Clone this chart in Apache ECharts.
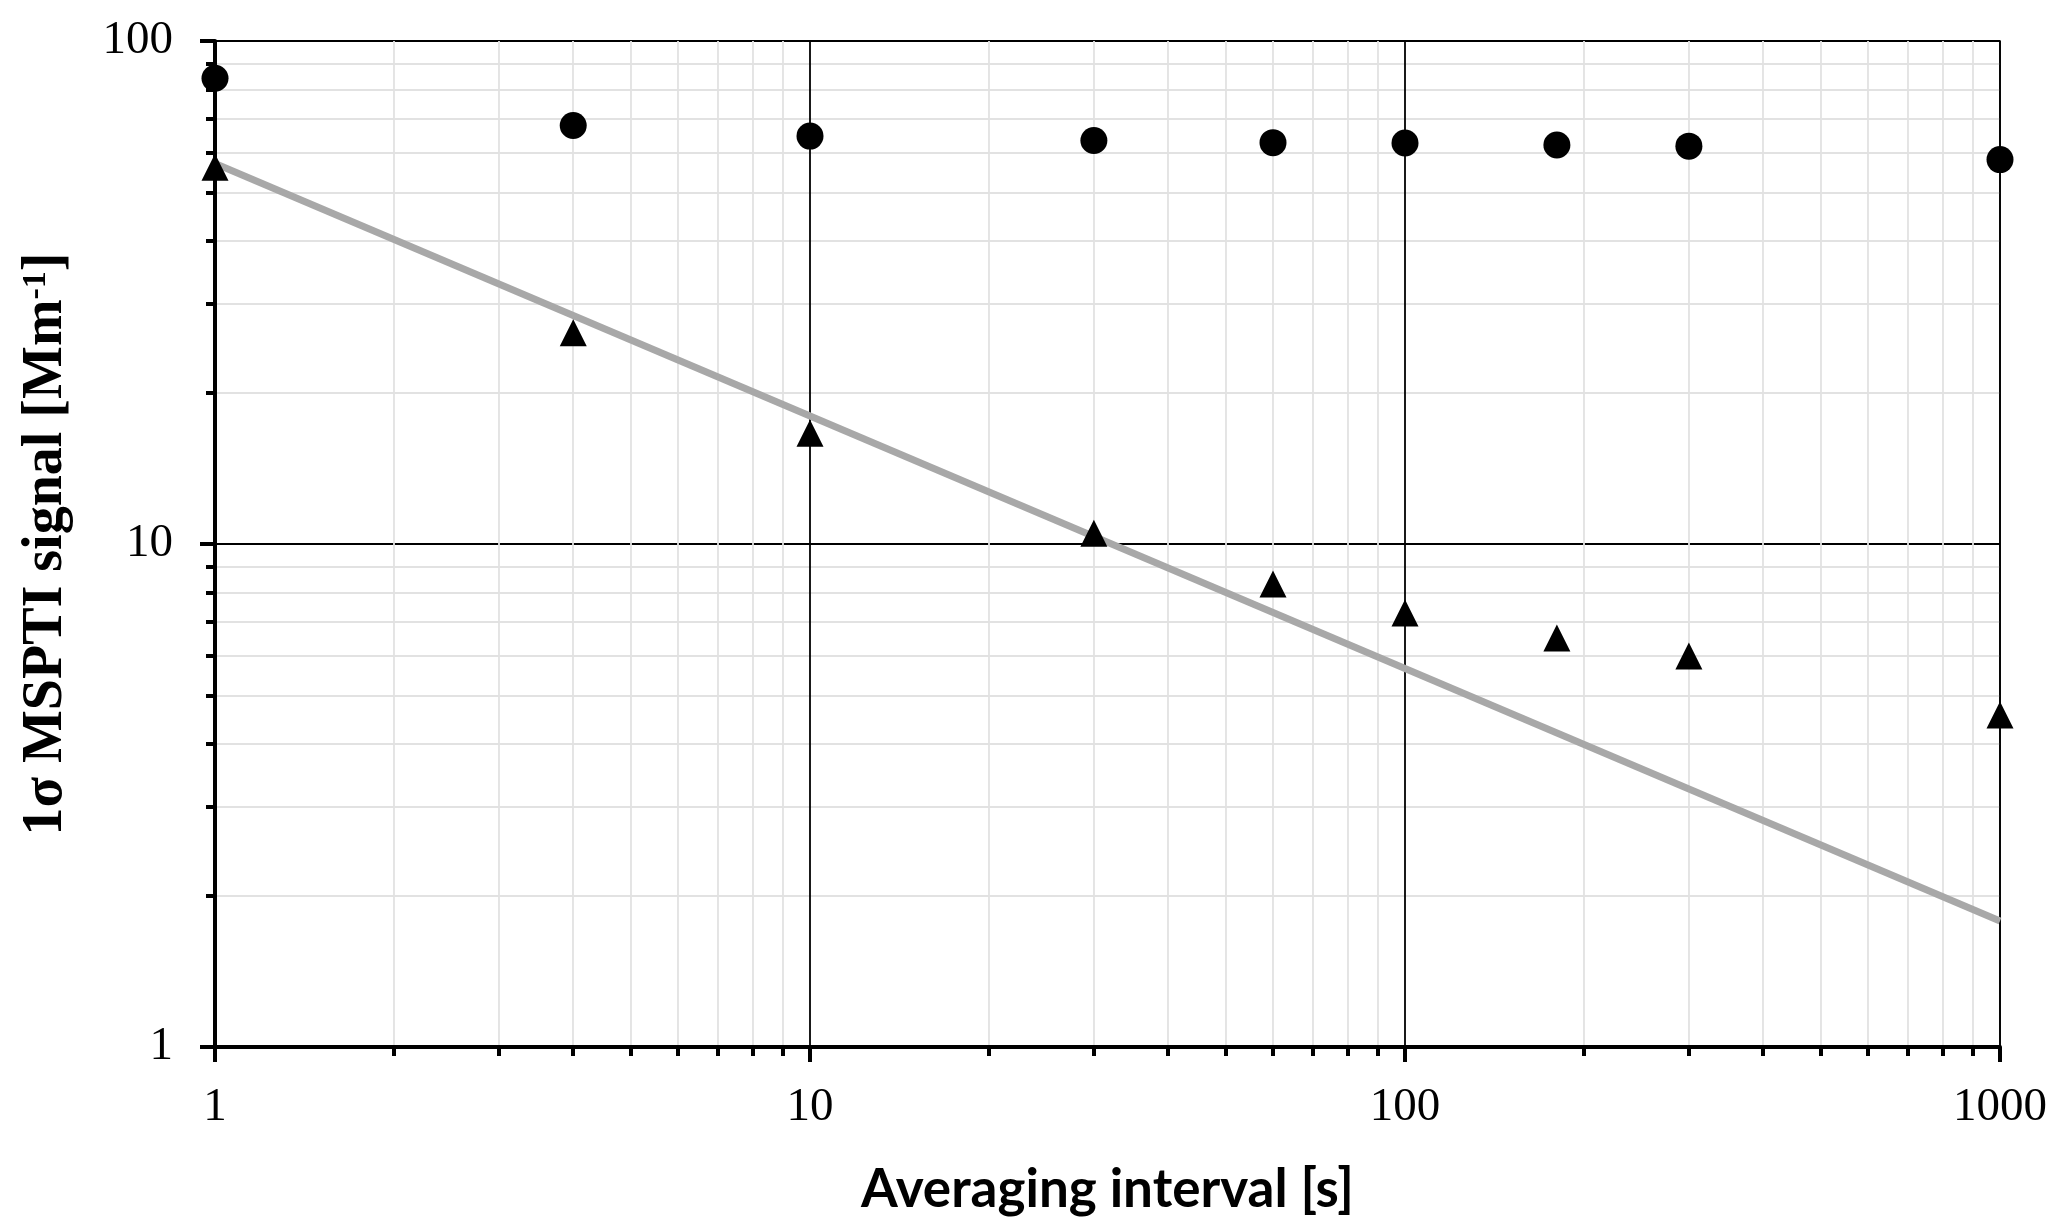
<!DOCTYPE html>
<html>
<head>
<meta charset="utf-8">
<script src="https://cdn.jsdelivr.net/npm/echarts@6/dist/echarts.min.js"></script>
<style>
  html, body { margin: 0; padding: 0; background: #fff; }
  #chart { width: 2067px; height: 1230px; }
</style>
</head>
<body>
<div id="chart"></div>
<script>
// ---- data ----
const intervals = [1, 4, 10, 30, 60, 100, 180, 300, 1000];
const signalCircles = [84.3, 67.9, 64.7, 63.4, 62.8, 62.7, 62.1, 61.8, 58.1];
const signalTriangles = [56.1, 26.3, 16.6, 10.5, 8.33, 7.29, 6.50, 5.99, 4.57];
const fitX = [1, 1000];
const fitY = [57.1, 1.78];

// ---- tick values ----
const xTickLabels = [1, 10, 100, 1000];
const yTickLabels = [1, 10, 100];
const xMinorTicks = [2, 3, 4, 5, 6, 7, 8, 9, 20, 30, 40, 50, 60, 70, 80, 90, 200, 300, 400, 500, 600, 700, 800, 900];
const yMinorTicks = [2, 3, 4, 5, 6, 7, 8, 9, 20, 30, 40, 50, 60, 70, 80, 90];

const circleData = intervals.map((x, i) => [x, signalCircles[i]]);
const triangleData = intervals.map((x, i) => [x, signalTriangles[i]]);
const fitData = fitX.map((x, i) => [x, fitY[i]]);

const serif = '"Liberation Serif", "Times New Roman", serif';
const minorGray = '#e2e2e2';
const plainNumber = v => String(Math.round(v));

const chart = echarts.init(document.getElementById('chart'), null, { renderer: 'canvas' });
chart.setOption({
  backgroundColor: '#ffffff',
  animation: false,
  grid: {
    left: 215, right: 67, top: 41, bottom: 183,
    show: true, borderColor: '#000', borderWidth: 1.5, backgroundColor: 'transparent',
    containLabel: false, outerBoundsMode: 'none'
  },
  xAxis: [
    {
      type: 'log', logBase: 10, min: 1, max: 1000, position: 'bottom',
      axisLine: { show: true, onZero: false, lineStyle: { color: '#000', width: 4 } },
      axisTick: { show: true, inside: false, length: 15, customValues: xTickLabels, lineStyle: { color: '#000', width: 4 } },
      axisLabel: { show: true, customValues: xTickLabels, formatter: plainNumber, margin: 37, color: '#000', fontFamily: serif, fontSize: 47 },
      splitLine: { show: true, lineStyle: { color: '#000', width: 1.8 } },
      minorTick: { show: false }, minorSplitLine: { show: false },
      name: 'Averaging interval [s]', nameLocation: 'middle', nameGap: 116, nameMoveOverlap: false,
      nameTextStyle: { color: '#000', fontFamily: 'Lato, "Open Sans", sans-serif', fontWeight: 'bold', fontSize: 53 }
    },
    {
      type: 'log', logBase: 10, min: 1, max: 1000, position: 'bottom', gridIndex: 0,
      axisLine: { show: false },
      axisTick: { show: true, inside: false, length: 9, customValues: xMinorTicks, lineStyle: { color: '#000', width: 4 } },
      axisLabel: { show: false },
      splitLine: { show: true, lineStyle: { color: minorGray, width: 1.8 } }
    }
  ],
  yAxis: [
    {
      type: 'log', logBase: 10, min: 1, max: 100, position: 'left',
      axisLine: { show: true, onZero: false, lineStyle: { color: '#000', width: 4 } },
      axisTick: { show: true, inside: false, length: 15, customValues: yTickLabels, lineStyle: { color: '#000', width: 4 } },
      axisLabel: { show: true, customValues: yTickLabels, formatter: plainNumber, margin: 42, color: '#000', fontFamily: serif, fontSize: 47 },
      splitLine: { show: true, lineStyle: { color: '#000', width: 1.8 } },
      minorTick: { show: false }, minorSplitLine: { show: false },
      name: '1σ MSPTI signal [Mm{sup|-1}]', nameLocation: 'middle', nameGap: 140,
      nameTextStyle: {
        color: '#000', fontFamily: serif, fontWeight: 'bold', fontSize: 56,
        rich: { sup: { color: '#000', fontFamily: serif, fontWeight: 'bold', fontSize: 34, verticalAlign: 'top' } }
      }
    },
    {
      type: 'log', logBase: 10, min: 1, max: 100, position: 'left', gridIndex: 0,
      axisLine: { show: false },
      axisTick: { show: true, inside: false, length: 9, customValues: yMinorTicks, lineStyle: { color: '#000', width: 4 } },
      axisLabel: { show: false },
      splitLine: { show: true, lineStyle: { color: minorGray, width: 1.8 } }
    }
  ],
  series: [
    {
      type: 'line', name: 'fit', xAxisIndex: 0, yAxisIndex: 0, data: fitData,
      showSymbol: false, symbol: 'none', z: 3,
      lineStyle: { color: '#a8a8a8', width: 7 }, itemStyle: { color: '#a8a8a8' }
    },
    {
      type: 'scatter', name: 'circles', xAxisIndex: 0, yAxisIndex: 0, data: circleData,
      symbol: 'circle', symbolSize: 27, clip: false, z: 5,
      itemStyle: { color: '#000', opacity: 1 }
    },
    {
      type: 'scatter', name: 'triangles', xAxisIndex: 0, yAxisIndex: 0, data: triangleData,
      symbol: 'triangle', symbolSize: 27, clip: false, z: 5,
      itemStyle: { color: '#000', opacity: 1 }
    }
  ]
});
</script>
</body>
</html>
